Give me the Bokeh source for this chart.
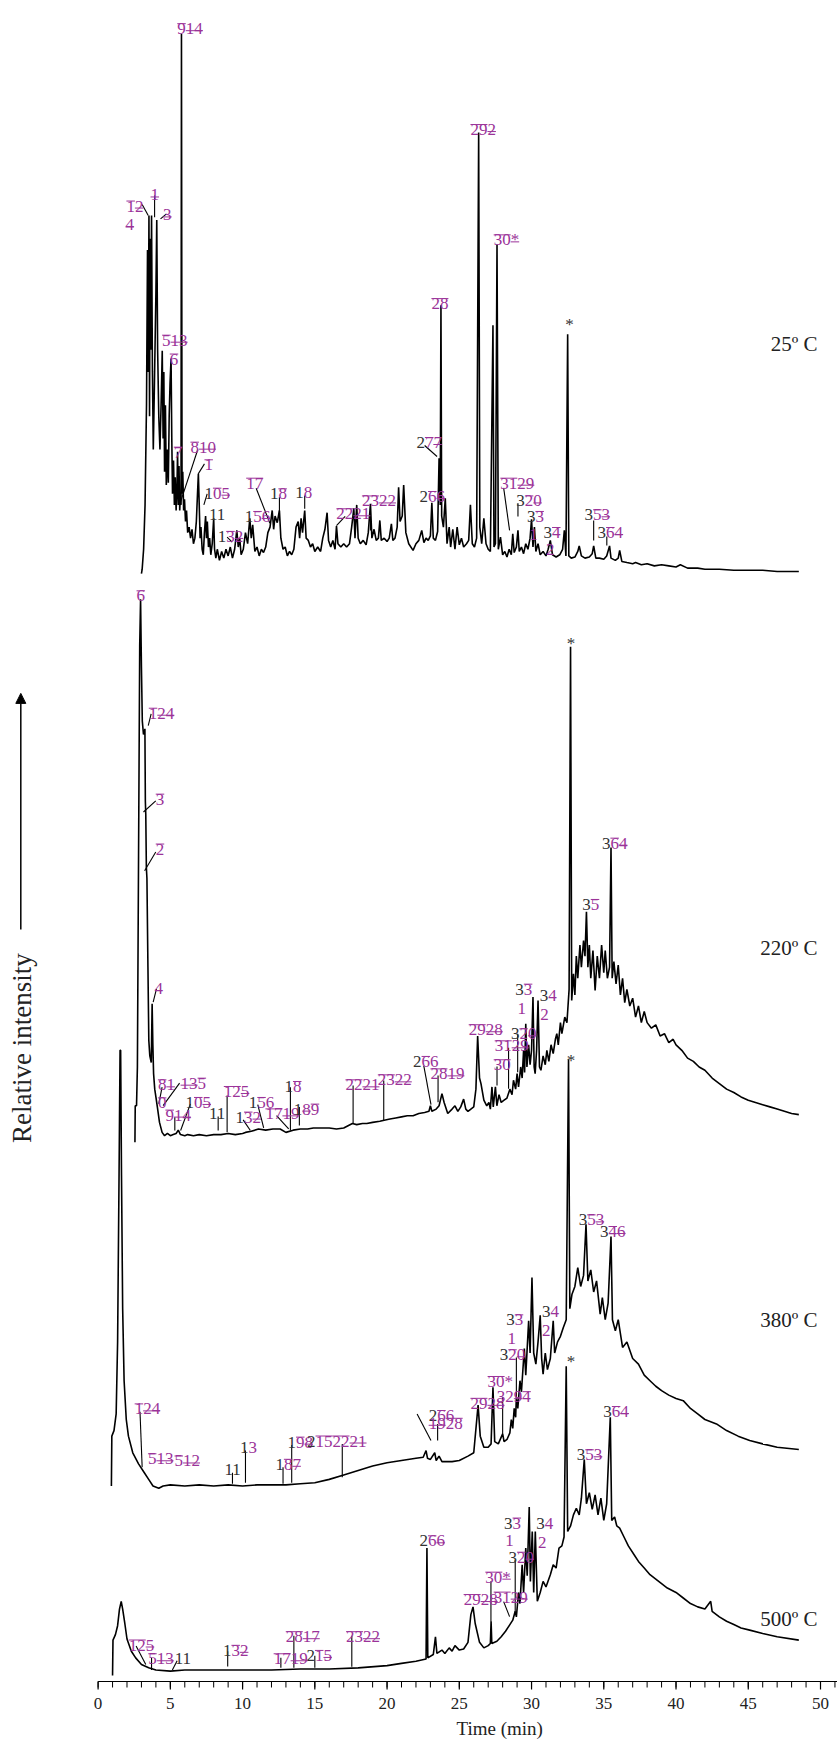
import math
from bokeh.plotting import figure
from bokeh.models import Range1d, ColumnDataSource, Arrow, NormalHead
from bokeh.core.properties import value
from bokeh.embed import file_html
from bokeh.resources import INLINE

# ---------------- data (time in min, intensity in arbitrary units) ----------------
temperatures = ["25º C", "220º C", "380º C", "500º C"]

trace_25c = [(3.00, -2), (3.05, 2), (3.15, 20), (3.25, 60), (3.35, 150), (3.42, 290), (3.47, 180), (3.52, 321),
    (3.56, 140), (3.60, 300), (3.64, 200), (3.70, 321), (3.76, 180), (3.82, 110), (3.90, 170), (4.00, 250),
    (4.06, 317), (4.12, 200), (4.20, 140), (4.28, 110), (4.36, 150), (4.44, 199), (4.50, 120), (4.55, 180),
    (4.60, 90), (4.66, 150), (4.72, 78), (4.80, 110), (4.86, 80), (4.92, 140), (4.98, 170), (5.05, 192),
    (5.10, 120), (5.15, 70), (5.22, 100), (5.28, 60), (5.34, 85), (5.40, 55), (5.46, 75), (5.50, 108),
    (5.55, 60), (5.60, 95), (5.65, 55), (5.70, 70), (5.74, 60), (5.77, 485), (5.81, 70), (5.86, 90),
    (5.92, 55), (5.98, 65), (6.05, 45), (6.12, 55), (6.20, 35), (6.30, 40), (6.40, 30), (6.50, 38),
    (6.60, 25), (6.70, 30), (6.80, 45), (6.88, 70), (6.94, 88), (7.00, 60), (7.06, 30), (7.12, 40),
    (7.20, 20), (7.28, 15), (7.36, 35), (7.44, 50), (7.50, 30), (7.56, 45), (7.64, 22), (7.72, 30),
    (7.80, 15), (7.90, 25), (8.00, 48), (8.06, 20), (8.15, 12), (8.25, 20), (8.40, 10), (8.55, 18),
    (8.70, 12), (8.85, 20), (9.00, 14), (9.15, 22), (9.30, 12), (9.45, 20), (9.60, 37), (9.70, 22),
    (9.80, 30), (9.90, 15), (10.05, 20), (10.20, 35), (10.35, 25), (10.50, 48), (10.60, 30), (10.70, 42),
    (10.85, 18), (11.00, 22), (11.15, 14), (11.30, 20), (11.45, 17), (11.60, 22), (11.75, 35), (11.90, 40),
    (12.05, 55), (12.15, 38), (12.25, 50), (12.40, 44), (12.55, 55), (12.65, 30), (12.80, 20), (12.95, 22),
    (13.10, 14), (13.25, 18), (13.40, 15), (13.55, 20), (13.70, 40), (13.85, 45), (13.95, 30), (14.05, 48),
    (14.15, 35), (14.30, 55), (14.40, 30), (14.55, 28), (14.70, 22), (14.85, 25), (15.00, 18), (15.20, 22),
    (15.40, 18), (15.55, 30), (15.70, 38), (15.85, 53), (15.95, 28), (16.10, 22), (16.25, 28), (16.40, 20),
    (16.50, 41), (16.60, 25), (16.80, 22), (17.00, 25), (17.20, 22), (17.40, 25), (17.55, 40), (17.70, 57),
    (17.78, 30), (17.90, 60), (18.00, 30), (18.15, 25), (18.35, 28), (18.55, 24), (18.70, 35), (18.85, 61),
    (18.95, 30), (19.10, 38), (19.25, 28), (19.40, 30), (19.50, 46), (19.60, 28), (19.80, 30), (20.00, 27),
    (20.15, 30), (20.30, 43), (20.40, 28), (20.55, 30), (20.70, 40), (20.80, 76), (20.90, 45), (21.05, 50),
    (21.15, 78), (21.30, 35), (21.50, 25), (21.80, 19), (22.00, 25), (22.20, 28), (22.40, 37), (22.55, 26),
    (22.70, 30), (22.85, 28), (23.00, 32), (23.10, 62), (23.20, 30), (23.35, 28), (23.50, 36), (23.60, 102),
    (23.68, 60), (23.73, 240), (23.78, 50), (23.90, 40), (24.03, 66), (24.15, 25), (24.30, 40), (24.40, 22),
    (24.55, 38), (24.70, 20), (24.85, 40), (25.00, 24), (25.15, 30), (25.30, 22), (25.50, 25), (25.65, 28),
    (25.77, 60), (25.90, 25), (26.05, 22), (26.20, 30), (26.34, 396), (26.42, 40), (26.55, 25), (26.70, 48),
    (26.85, 25), (27.00, 20), (27.15, 18), (27.33, 222), (27.40, 22), (27.50, 25), (27.61, 295), (27.70, 20),
    (27.85, 31), (28.00, 15), (28.15, 18), (28.30, 13), (28.45, 20), (28.60, 15), (28.70, 34), (28.80, 17),
    (28.95, 22), (29.06, 37), (29.15, 18), (29.30, 22), (29.45, 16), (29.60, 25), (29.75, 20), (29.90, 30),
    (30.00, 47), (30.10, 22), (30.20, 40), (30.30, 18), (30.45, 25), (30.60, 15), (30.80, 18), (31.00, 14),
    (31.15, 20), (31.30, 28), (31.45, 15), (31.70, 13), (31.95, 15), (32.15, 20), (32.27, 37), (32.38, 14),
    (32.50, 214), (32.58, 14), (32.75, 12), (33.00, 13), (33.20, 18), (33.30, 23), (33.45, 14), (33.70, 12),
    (34.00, 13), (34.20, 16), (34.30, 23), (34.45, 12), (34.70, 12), (35.00, 11), (35.20, 14), (35.40, 23),
    (35.50, 12), (35.80, 10), (36.00, 12), (36.10, 19), (36.25, 9), (36.60, 8), (37.00, 7), (37.20, 8),
    (37.60, 6), (38.00, 7), (38.50, 5), (39.00, 6), (39.50, 5), (40.00, 4), (40.30, 6), (40.80, 3),
    (41.50, 3), (42.00, 2), (43.00, 2), (44.00, 1), (45.00, 1), (46.00, 1), (47.00, 0), (48.50, 0)]

trace_220c = [(2.55, -8), (2.57, 25), (2.66, 25), (2.72, 60), (2.80, 250), (2.88, 440), (2.94, 482), (3.00, 420),
    (3.06, 372), (3.14, 360), (3.20, 362), (3.24, 365), (3.27, 300), (3.30, 288), (3.34, 240), (3.38, 230),
    (3.45, 150), (3.51, 84), (3.58, 70), (3.68, 64), (3.74, 117), (3.79, 80), (3.84, 54), (3.92, 40),
    (4.00, 33), (4.10, 24), (4.25, 10), (4.43, 1), (4.60, -2), (4.80, 0), (5.00, -2), (5.20, -1),
    (5.40, 0), (5.55, 3), (5.70, -1), (6.00, -2), (6.20, -1), (6.60, -2), (7.00, -1), (7.50, -2),
    (8.00, -1), (8.50, -1), (9.00, 0), (9.50, -1), (10.00, 0), (10.20, 1), (10.60, 2), (11.10, 4),
    (11.60, 3), (12.10, 4), (12.60, 4), (13.00, 1), (13.50, 3), (14.00, 4), (14.50, 4), (14.90, 5),
    (15.50, 5), (16.00, 5), (16.50, 4), (17.00, 5), (17.30, 7), (17.60, 9), (17.90, 8), (18.30, 9),
    (18.60, 9), (19.00, 10), (19.50, 11), (19.80, 12), (20.20, 13), (20.60, 14), (21.00, 15), (21.40, 16),
    (21.80, 16), (22.20, 18), (22.60, 19), (22.90, 20), (23.00, 25), (23.10, 20), (23.40, 22), (23.60, 25),
    (23.80, 36), (23.95, 28), (24.20, 18), (24.50, 22), (24.70, 25), (24.90, 20), (25.10, 24), (25.30, 31),
    (25.45, 22), (25.60, 20), (25.80, 22), (26.00, 24), (26.15, 40), (26.27, 88), (26.40, 50), (26.50, 45),
    (26.70, 30), (26.90, 25), (27.05, 28), (27.15, 22), (27.26, 42), (27.35, 24), (27.50, 42), (27.60, 25),
    (27.75, 35), (27.90, 28), (28.10, 30), (28.30, 32), (28.50, 40), (28.65, 35), (28.75, 48), (28.90, 40),
    (29.00, 54), (29.10, 42), (29.25, 60), (29.35, 50), (29.45, 75), (29.52, 55), (29.60, 99), (29.68, 60),
    (29.80, 80), (29.90, 62), (30.00, 75), (30.10, 123), (30.18, 60), (30.25, 54), (30.35, 75), (30.45, 120),
    (30.55, 60), (30.65, 57), (30.80, 70), (30.95, 62), (31.06, 75), (31.20, 65), (31.35, 80), (31.50, 72),
    (31.65, 85), (31.75, 90), (31.85, 80), (32.00, 100), (32.10, 90), (32.30, 105), (32.45, 100), (32.60, 130),
    (32.70, 439), (32.78, 120), (32.90, 144), (33.00, 125), (33.10, 160), (33.20, 140), (33.35, 170), (33.45, 150),
    (33.60, 174), (33.70, 160), (33.80, 200), (33.90, 150), (34.00, 170), (34.10, 140), (34.25, 165), (34.40, 129),
    (34.55, 160), (34.70, 140), (34.85, 170), (35.00, 145), (35.10, 165), (35.25, 140), (35.40, 150), (35.50, 258),
    (35.58, 140), (35.70, 155), (35.85, 135), (36.00, 152), (36.15, 125), (36.30, 140), (36.45, 118), (36.60, 130),
    (36.80, 115), (37.00, 122), (37.20, 105), (37.40, 115), (37.60, 100), (37.80, 110), (38.00, 100), (38.30, 95),
    (38.60, 98), (38.90, 88), (39.20, 90), (39.50, 82), (39.80, 85), (40.00, 80), (40.40, 75), (40.80, 68),
    (41.20, 65), (41.60, 60), (42.00, 57), (42.50, 50), (43.00, 45), (43.50, 40), (44.00, 37), (44.50, 33),
    (45.00, 30), (45.50, 28), (46.00, 26), (46.50, 24), (47.00, 22), (47.50, 20), (48.00, 18), (48.50, 17)]

trace_380c = [(0.92, 0), (0.95, 45), (1.10, 50), (1.25, 65), (1.35, 130), (1.45, 280), (1.52, 393), (1.56, 393),
    (1.62, 280), (1.70, 160), (1.80, 95), (1.95, 60), (2.10, 45), (2.40, 30), (2.80, 20), (3.20, 12),
    (3.50, 6), (3.80, 0), (4.20, -2), (4.50, 0), (5.00, 1), (6.00, 0), (7.00, 1), (8.00, 0), (9.00, 1),
    (10.00, 0), (11.00, 1), (12.00, 1), (13.00, 1), (14.00, 2), (15.00, 3), (16.00, 6), (17.00, 10),
    (18.00, 14), (19.00, 18), (20.00, 21), (21.00, 23), (22.00, 25), (22.50, 26), (22.70, 32), (22.80, 25),
    (23.00, 24), (23.30, 30), (23.40, 23), (23.60, 27), (23.80, 22), (24.00, 22), (24.50, 22), (25.00, 23),
    (25.60, 27), (26.00, 30), (26.30, 73), (26.45, 45), (26.70, 35), (27.00, 35), (27.20, 38), (27.33, 89),
    (27.45, 40), (27.70, 38), (28.00, 47), (28.10, 40), (28.30, 42), (28.50, 48), (28.60, 60), (28.70, 52),
    (28.80, 70), (28.90, 62), (28.95, 80), (29.05, 70), (29.20, 95), (29.30, 85), (29.50, 124), (29.60, 100),
    (29.80, 149), (29.90, 120), (30.03, 188), (30.15, 120), (30.30, 110), (30.45, 130), (30.60, 154), (30.70, 115),
    (30.80, 101), (30.95, 120), (31.10, 105), (31.30, 115), (31.50, 149), (31.60, 120), (31.80, 130), (32.00, 135),
    (32.20, 143), (32.40, 150), (32.56, 385), (32.65, 160), (32.80, 173), (33.00, 180), (33.20, 197), (33.40, 180),
    (33.60, 190), (33.77, 236), (33.90, 185), (34.10, 195), (34.30, 175), (34.50, 185), (34.75, 155), (34.90, 170),
    (35.10, 150), (35.30, 165), (35.50, 225), (35.60, 150), (35.80, 140), (36.00, 150), (36.30, 125), (36.60, 130),
    (37.00, 115), (37.40, 110), (37.80, 100), (38.20, 95), (38.60, 90), (39.00, 86), (39.50, 82), (40.00, 79),
    (40.50, 77), (41.00, 70), (41.50, 65), (42.00, 60), (42.80, 56), (43.50, 50), (44.30, 45), (45.10, 41),
    (46.00, 38), (47.00, 35), (48.50, 33)]

trace_500c = [(1.00, -5), (1.03, 27), (1.20, 32), (1.35, 40), (1.48, 55), (1.60, 62), (1.70, 55), (1.85, 42),
    (2.00, 28), (2.30, 17), (2.60, 11), (3.00, 5), (3.50, 2), (4.00, 0), (5.00, -1), (6.00, 0), (8.00, 0),
    (10.00, 0), (12.00, 0), (14.00, 1), (16.00, 1), (18.00, 2), (20.00, 4), (21.00, 6), (22.00, 8),
    (22.70, 10), (22.76, 110), (22.82, 11), (23.20, 14), (23.35, 30), (23.45, 15), (23.80, 18), (24.00, 15),
    (24.30, 20), (24.50, 17), (24.70, 22), (25.00, 18), (25.30, 19), (25.60, 25), (25.80, 50), (25.95, 57),
    (26.10, 42), (26.40, 25), (26.70, 20), (27.00, 22), (27.15, 24), (27.20, 44), (27.25, 24), (27.60, 26),
    (27.90, 30), (28.20, 35), (28.50, 41), (28.70, 45), (28.87, 53), (28.95, 48), (29.10, 70), (29.20, 60),
    (29.35, 95), (29.45, 70), (29.60, 110), (29.70, 85), (29.84, 147), (29.92, 80), (30.05, 125), (30.15, 70),
    (30.26, 125), (30.40, 62), (30.60, 70), (30.80, 80), (31.00, 75), (31.30, 86), (31.50, 95), (31.70, 92),
    (31.90, 110), (32.10, 112), (32.25, 120), (32.40, 274), (32.50, 125), (32.70, 130), (32.90, 140), (33.10, 146),
    (33.30, 140), (33.45, 155), (33.65, 190), (33.80, 150), (34.00, 160), (34.20, 145), (34.40, 158), (34.60, 140),
    (34.80, 155), (35.00, 135), (35.20, 150), (35.45, 228), (35.55, 135), (35.75, 138), (35.90, 130), (36.10, 128),
    (36.40, 120), (36.70, 112), (37.10, 104), (37.40, 98), (37.80, 92), (38.20, 86), (38.60, 82), (39.00, 78),
    (39.40, 74), (40.00, 70), (40.50, 65), (41.00, 60), (41.50, 57), (42.00, 55), (42.40, 62), (42.50, 53),
    (43.00, 48), (43.50, 44), (44.00, 41), (44.50, 38), (45.10, 36), (46.00, 33), (47.00, 30), (48.50, 27)]

traces = [trace_25c, trace_220c, trace_380c, trace_500c]

# peak labels: (time of left edge, intensity, markup)  k=grey  m=magenta  s=struck  u=underlined
labels_25c = [(5.48, 495, "s9|u14"), (1.96, 335, "s1|u2"), (1.90, 318, "u4"), (3.63, 345, "u1"),
    (4.50, 327, "u3"), (4.43, 214, "s5|u13"), (4.96, 197, "s6"), (5.24, 113, "s7"), (6.39, 117.5, "s8|u10"),
    (7.36, 101.6, "s1"), (7.36, 76, "k1|s0|u5"), (7.67, 56.5, "k11"), (8.28, 37, "k1|s3|u2"),
    (10.25, 85, "s17"), (10.15, 55, "k1|s5|u6"), (11.89, 75.4, "k1|s8"), (13.65, 76.6, "k1|m8"),
    (16.49, 57.4, "s22|u21"), (18.26, 69, "s23|u22"), (23.07, 247, "s28"), (22.03, 121.7, "k2|s7|u7"),
    (22.25, 73, "k2|s6|u6"), (25.77, 404, "s29|u2"), (27.38, 304.5, "s30|u*"), (32.34, 228, "k*"),
    (27.84, 85, "s31|u29"), (28.95, 69, "k3|s2|u0"), (29.68, 55, "k3|s3"), (29.85, 38.4, "m1"),
    (30.83, 40.5, "k3|s4"), (31.0, 25, "m2"), (33.67, 56.5, "k3|s5|u3"), (34.57, 40.5, "k3|s6|u4")]
labels_220c = [(2.66, 490.4, "s6"), (3.51, 384.5, "s1|u24"), (3.99, 307, "s3"), (3.99, 262, "s2"),
    (3.91, 136.5, "m4"), (4.14, 49.3, "s8|u1"), (4.14, 33, "s0"), (4.66, 22, "s9|u14"), (5.71, 50.8, "u13|s5"),
    (6.05, 33.4, "k1|s0|u5"), (7.67, 23, "k11"), (8.7, 43.3, "s12|u5"), (9.51, 20.2, "k1|s3|u2"),
    (10.43, 33.4, "k1|s5|m6"), (11.58, 23.1, "s17|u19"), (12.9, 47.8, "k1|s8"), (13.54, 27.4, "k1|u8|s9"),
    (17.12, 49.3, "s22|u21"), (19.36, 53.8, "s23|u22"), (21.8, 70.4, "k2|s6|m6"), (23.0, 59.2, "s28|u19"),
    (25.65, 99, "s29|u28"), (27.45, 84.5, "s31|u29"), (27.38, 67.4, "s30"), (28.57, 95.3, "k3|s2|u0"),
    (28.88, 135.6, "k3|s3"), (29.03, 118.4, "m1"), (30.56, 129.6, "k3|m4"), (30.6, 112.4, "m2"),
    (32.44, 447.7, "k*"), (33.51, 212, "k3|s5"), (34.87, 267.3, "k3|s6|u4")]
labels_380c = [(2.53, 75, "s1|u24"), (3.45, 30, "s5|u13"), (5.29, 28, "s5|u12"), (8.74, 20, "k11"),
    (9.82, 40, "k1|m3"), (13.11, 45, "k1|s9|u8"), (12.27, 25, "k1|s8|u7"), (14.46, 46, "k2|s15|s22|u21"),
    (22.88, 69, "k2|s6|m6"), (22.88, 62, "u19|s28"), (25.77, 80, "s29|u28"), (26.96, 99.7, "s30|m*"),
    (27.6, 86, "m32|u9|s4"), (27.8, 123.8, "k3|s2|u0"), (28.25, 155.3, "k3|s3"), (28.34, 138.8, "m1"),
    (30.72, 163, "k3|m4"), (30.72, 145.7, "m2"), (32.44, 389.3, "k*"), (33.26, 245.5, "k3|s5|u3"),
    (34.74, 235, "k3|s4|u6")]
labels_500c = [(2.12, 28, "s12|u5"), (3.47, 15.6, "s5|u13"), (5.3, 15.6, "k11"), (8.64, 23.2, "k1|s3|u2"),
    (12.99, 35.5, "s28|u17"), (12.15, 15.6, "s17|u19"), (14.42, 18.6, "k2|s1|u5"), (17.16, 35.5, "s23|u22"),
    (22.24, 122, "k2|s6|u6"), (25.3, 69, "s29|u28"), (27.38, 71.2, "s31|u29"), (26.8, 89.2, "s30|u*"),
    (28.41, 107.2, "k3|s2|u0"), (28.1, 138, "k3|s3"), (28.18, 122.3, "m1"), (30.33, 138, "k3|m4"),
    (30.45, 120.5, "m2"), (32.44, 283.7, "k*"), (33.13, 199.6, "k3|s5|u3"), (34.97, 238.6, "k3|s6|u4")]
peak_labels = [labels_25c, labels_220c, labels_380c, labels_500c]

# leader lines: (t1, intensity1, t2, intensity2)
leaders_25c = [(3.05, 331, 3.47, 321), (3.91, 339, 3.91, 319.5), (4.73, 322.6, 4.32, 318), (6.9, 110, 5.66, 61),
    (7.36, 97, 6.93, 88), (7.55, 70, 7.32, 60), (8.93, 31, 9.28, 26.4), (10.94, 75, 11.89, 43.5),
    (12.55, 67, 12.55, 46), (14.3, 68.5, 14.3, 56.5), (17.1, 49.6, 16.5, 41.4), (18.85, 52, 18.85, 37),
    (22.6, 113.6, 23.46, 103.7), (28.07, 75.4, 28.48, 37), (29.06, 61.6, 29.06, 49.5), (34.3, 46, 34.3, 28),
    (35.21, 31.5, 35.21, 23.4)]
leaders_220c = [(3.67, 378.6, 3.47, 368), (3.99, 300, 3.14, 290), (3.99, 254, 3.22, 237), (4.04, 130.5, 3.81, 118.5),
    (4.43, 41.8, 4.2, 26.8), (5.64, 45.4, 4.5, 25.2), (5.31, 14.7, 5.31, 2.7), (6.39, 26.7, 5.71, 2.7),
    (8.31, 15.3, 8.31, 2.7), (8.93, 34.3, 8.93, 1.2), (10.04, 12.3, 10.54, 2.7), (11.05, 26, 11.46, 5),
    (12.35, 16.2, 13.19, 4.2), (13.31, 41.8, 13.31, 2.7), (13.93, 23.8, 13.93, 7.2), (17.65, 43.3, 17.65, 8.7),
    (19.77, 47.8, 19.77, 11.7), (22.54, 61.3, 23.04, 26), (23.53, 52.3, 23.53, 28.2), (27.61, 60.4, 27.61, 43.3),
    (28.41, 77.3, 28.41, 40.3), (29.04, 90, 29.04, 55.3)]
leaders_380c = [(2.9, 67, 3.05, 17), (9.3, 12, 9.3, 2), (10.2, 32, 10.2, 3), (13.4, 37, 13.4, 3),
    (12.8, 17, 12.8, 2), (16.9, 38, 16.9, 8), (22.08, 65, 23.04, 41), (23.5, 56, 23.5, 41),
    (28.0, 80, 28.0, 47), (28.95, 116, 28.95, 80)]
leaders_500c = [(2.63, 21.7, 3.3, 4.9), (3.7, 11, 3.7, 0), (5.47, 8.5, 5.14, 0), (8.97, 17, 8.97, 3.3),
    (12.65, 11, 12.65, 2), (13.55, 31, 13.55, 2), (15.0, 13, 15.0, 2), (17.56, 31, 17.56, 3),
    (28.87, 99.5, 28.87, 52.7), (27.19, 80, 27.19, 43.7), (28.07, 61.7, 28.48, 48.2)]
leaders = [leaders_25c, leaders_220c, leaders_380c, leaders_500c]

x_ticks = list(range(0, 51, 5))
x_minor_ticks = list(range(0, 52))
x_title = "Time (min)"
y_title = "Relative intensity"

# ---------------- layout / style ----------------
W, H = 837, 1739
AXIS_PX = 1681                               # pixel row of the time axis
PX_PER_MIN = 14.448
X0_PX = 97.6                                 # pixel position of t = 0
TRACE_BASE = [515, 1022, 1340, 1506]        # baseline position of each trace (shrunk px from top)
SCALE = 1.1086                               # px per intensity unit
TEMP_LABEL_INT = [205, 167, 150, 46]
MAGENTA = "#9b3399"
GREY = "#333333"
SERIF = "Liberation Serif"
CHAR_W = 8.5
X_START = -X0_PX / PX_PER_MIN
X_END = X_START + W / PX_PER_MIN

def ypos(i, h):
    return AXIS_PX - (TRACE_BASE[i] - h) * SCALE

p = figure(frame_width=W, frame_height=H, output_backend="svg", toolbar_location=None,
           x_range=Range1d(X_START, X_END), y_range=Range1d(AXIS_PX - H, AXIS_PX),
           x_axis_location=None, y_axis_location=None,
           min_border_left=0, min_border_right=0, min_border_top=0, min_border_bottom=0)
p.grid.visible = False
p.outline_line_color = None
p.background_fill_color = "white"

# time axis (line, ticks, labels, title)
p.segment([0], [0], [X_END], [0], line_color="black", line_width=1.2)
p.segment(x_minor_ticks, [0] * len(x_minor_ticks), x_minor_ticks, [-6] * len(x_minor_ticks),
          line_color="black", line_width=1)
p.segment(x_ticks, [0] * len(x_ticks), x_ticks, [-8] * len(x_ticks), line_color="black", line_width=1.2)
p.text(x=x_ticks, y=[-22] * len(x_ticks), text=[str(v) for v in x_ticks], text_font=value(SERIF),
       text_font_size=value("17px"), text_color="#222222", text_align="center", text_baseline="middle")
p.text(x=[27.8], y=[-47], text=[x_title], text_font=value(SERIF), text_font_size=value("19px"),
       text_color="#222222", text_align="center", text_baseline="middle")

for i, tr in enumerate(traces):
    xs = [t for t, h in tr]
    ys = [ypos(i, h) for t, h in tr]
    p.line(xs, ys, line_color="black", line_width=1.6)

# leaders
lx0, ly0, lx1, ly1 = [], [], [], []
for i, ls in enumerate(leaders):
    for t1, h1, t2, h2 in ls:
        lx0.append(t1); ly0.append(ypos(i, h1)); lx1.append(t2); ly1.append(ypos(i, h2))
p.segment(lx0, ly0, lx1, ly1, line_color="black", line_width=1.1)

# peak labels
tx, ty, tt, tc, to = [], [], [], [], []
dx0, dy0, dx1, dy1 = [], [], [], []
for i, ls in enumerate(peak_labels):
    for t, h, markup in ls:
        base = ypos(i, h) - 6
        off = 0.0
        for seg in markup.split("|"):
            code, txt = seg[0], seg[1:]
            tx.append(t); ty.append(base); tt.append(txt); to.append(off)
            tc.append(GREY if code == "k" else MAGENTA)
            w = len(txt) * CHAR_W
            if code in "su":
                yy = base + 5 if code == "s" else base - 2
                dx0.append(t + off / PX_PER_MIN); dx1.append(t + (off + w) / PX_PER_MIN)
                dy0.append(yy); dy1.append(yy)
            off += w
src = ColumnDataSource(dict(x=tx, y=ty, text=tt, color=tc, xo=to))
p.text(x="x", y="y", text="text", x_offset="xo", text_color="color", source=src,
       text_font=value(SERIF), text_font_size=value("17px"), text_baseline="alphabetic", text_align="left")
p.segment(dx0, dy0, dx1, dy1, line_color=MAGENTA, line_width=1)

# temperature labels
p.text(x=[49.8] * 4, y=[ypos(i, TEMP_LABEL_INT[i]) for i in range(4)], text=temperatures,
       text_font=value(SERIF), text_font_size=value("21px"), text_color="#222222",
       text_align="right", text_baseline="middle")

# y title with arrow
YLAB_T = -5.3
p.text(x=[YLAB_T], y=[AXIS_PX - 945 * SCALE], text=[y_title], angle=math.pi / 2,
       text_font=value(SERIF), text_font_size=value("27px"), text_color="#222222",
       text_align="center", text_baseline="middle")
p.add_layout(Arrow(x_start=YLAB_T - 0.05, y_start=AXIS_PX - 838 * SCALE, x_end=YLAB_T - 0.05,
                   y_end=AXIS_PX - 625 * SCALE, line_width=1.5, line_color="black",
                   end=NormalHead(size=10, fill_color="black", line_color="black")))

open("out.html", "w").write(file_html(p, INLINE))
